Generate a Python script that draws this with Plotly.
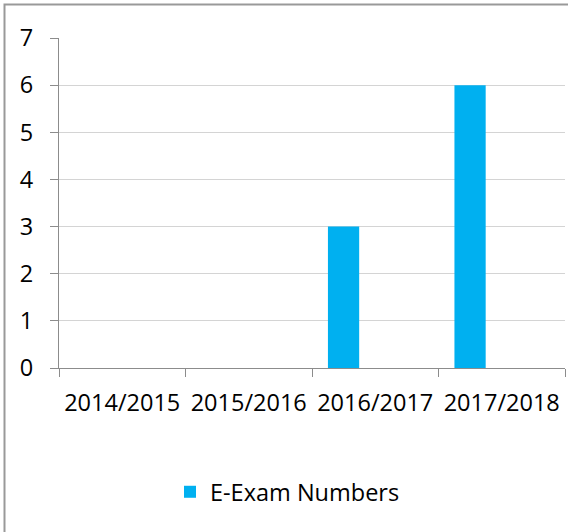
import plotly.graph_objects as go

# Exam counts per academic year
years = ["2014/2015", "2015/2016", "2016/2017", "2017/2018"]
exam_numbers = [0, 0, 3, 6]
series_name = "E-Exam Numbers"

W, H = 568, 532
L, R, T, B = 59, 3, 38, 164
plot_w = W - L - R
plot_h = H - T - B


def px_to_paper_x(px):
    return (px - L) / plot_w


def px_to_paper_y(py):
    return (H - B - py) / plot_h


axis_grey = "#8c8c8c"
font = dict(family="Open Sans, Liberation Sans, sans-serif", size=23.5, color="#000000")

fig = go.Figure()
# Bar sits in the first slot of a three-slot cluster within each category
fig.add_trace(go.Bar(
    x=years,
    y=exam_numbers,
    name=series_name,
    width=0.247,
    offset=-0.374,
    marker=dict(color="#00B0F0", line=dict(width=0)),
    showlegend=True,
))

fig.update_layout(
    width=W,
    height=H,
    margin=dict(l=L, r=R, t=T, b=B, autoexpand=False),
    paper_bgcolor="#ffffff",
    plot_bgcolor="#ffffff",
    font=font,
    showlegend=True,
    legend=dict(
        orientation="h",
        x=px_to_paper_x(170),
        xanchor="left",
        y=px_to_paper_y(492),
        yanchor="middle",
        font=font,
        bgcolor="rgba(0,0,0,0)",
    ),
    xaxis=dict(
        type="category",
        range=[-0.5, 3.5],
        tickson="boundaries",
        ticks="outside",
        ticklen=8,
        tickcolor=axis_grey,
        tickwidth=1,
        showline=True,
        linecolor=axis_grey,
        linewidth=1,
        showgrid=False,
        ticklabelstandoff=14,
        tickfont=font,
        fixedrange=True,
    ),
    yaxis=dict(
        range=[0, 7],
        tickmode="linear",
        tick0=0,
        dtick=1,
        ticks="outside",
        ticklen=8,
        tickcolor=axis_grey,
        tickwidth=1,
        showline=True,
        linecolor=axis_grey,
        linewidth=1,
        showgrid=True,
        gridcolor="#d4d4d4",
        gridwidth=1,
        zeroline=False,
        ticklabelstandoff=12,
        tickfont=font,
        fixedrange=True,
    ),
)

# Chart frame around the whole figure
fig.add_shape(
    type="rect",
    xref="paper", yref="paper",
    x0=px_to_paper_x(4.5), x1=px_to_paper_x(590),
    y0=px_to_paper_y(560), y1=px_to_paper_y(4.5),
    line=dict(color="#999999", width=2),
    fillcolor="rgba(0,0,0,0)",
    layer="below",
)

fig.write_html("out.html")
